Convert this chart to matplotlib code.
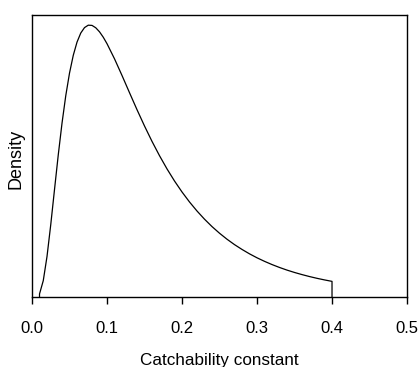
import matplotlib
matplotlib.use("Agg")
import matplotlib.pyplot as plt

plt.rcParams['font.family'] = ['Liberation Sans', 'DejaVu Sans']

# Catchability constant values and density
catchability = [0.010, 0.010, 0.015, 0.020, 0.025, 0.030, 0.035, 0.040, 0.045,
                0.050, 0.055, 0.060, 0.065, 0.070, 0.075, 0.080, 0.085, 0.090,
                0.095, 0.100, 0.110, 0.120, 0.130, 0.140, 0.150, 0.160, 0.170,
                0.180, 0.190, 0.200, 0.210, 0.220, 0.230, 0.240, 0.250, 0.260,
                0.270, 0.280, 0.290, 0.300, 0.310, 0.320, 0.330, 0.340, 0.350,
                0.360, 0.370, 0.380, 0.390, 0.400, 0.400]
density = [0.0, 0.078, 0.370, 0.904, 1.606, 2.378, 3.140, 3.838, 4.443,
           4.941, 5.332, 5.623, 5.823, 5.943, 5.996, 5.991, 5.939, 5.850,
           5.731, 5.588, 5.255, 4.888, 4.509, 4.135, 3.776, 3.437, 3.122,
           2.831, 2.565, 2.323, 2.103, 1.904, 1.724, 1.561, 1.415, 1.283,
           1.164, 1.058, 0.961, 0.874, 0.796, 0.725, 0.661, 0.603, 0.551,
           0.504, 0.461, 0.422, 0.387, 0.355, 0.0]

xticks = [0.0, 0.1, 0.2, 0.3, 0.4, 0.5]
xtick_labels = ["0.0", "0.1", "0.2", "0.3", "0.4", "0.5"]

fig = plt.figure(figsize=(4.19, 3.67), dpi=100)
ax = fig.add_axes([0.0764, 0.1894, 0.895, 0.7697])

ax.plot(catchability, density, color='black', linewidth=0.9)

ax.set_xlim(0, 0.5)
ax.set_ylim(0, 6.22)
ax.set_xticks(xticks)
ax.set_xticklabels(xtick_labels)
ax.set_yticks([])
ax.tick_params(axis='x', direction='out', length=5, width=1.0, pad=12,
               labelsize=12, colors='black')
for s in ax.spines.values():
    s.set_linewidth(1.0)
    s.set_color('black')

ax.set_xlabel("Catchability constant", fontsize=12.3, labelpad=12)
ax.set_ylabel("Density", fontsize=13)
ax.yaxis.set_label_coords(-0.019, 0.49)

fig.savefig("out.png", dpi=100)
